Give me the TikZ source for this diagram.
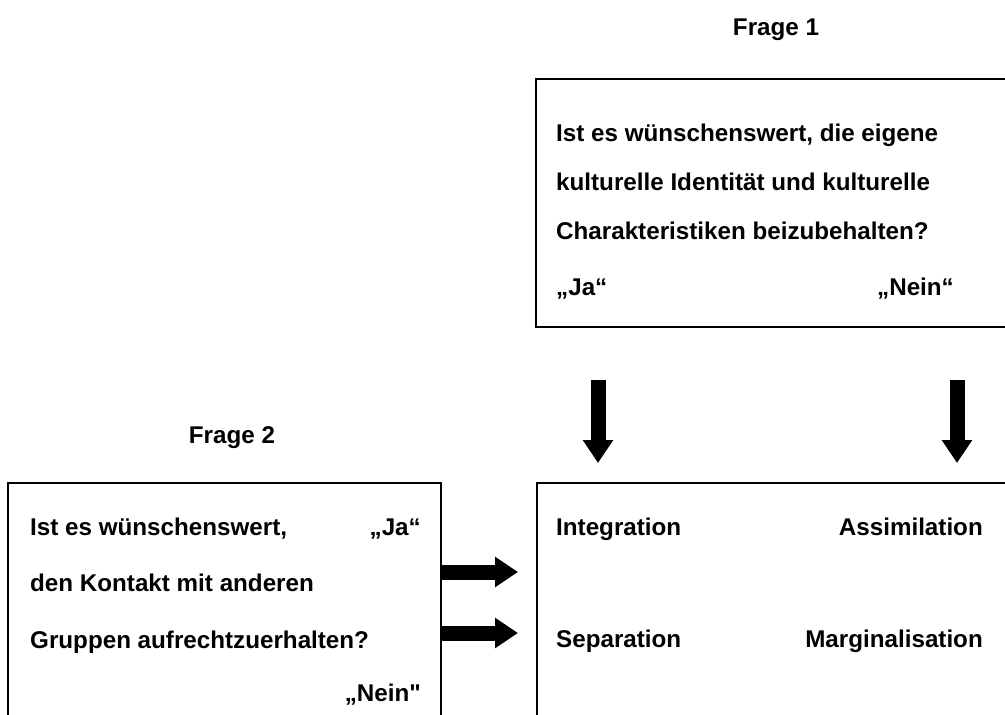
\documentclass[tikz,border=0pt]{standalone}
\usepackage{fontspec}
\setmainfont{Liberation Sans}[Ligatures=TeXOff]
\usetikzlibrary{arrows.meta}
\begin{document}
\begin{tikzpicture}[x=1pt,y=-1pt,
  panel/.style={draw,line width=2.4pt,rectangle,inner sep=0pt},
  lbl/.style={inner sep=0pt,font=\fontsize{24.2}{28}\selectfont\bfseries},
  lw/.style={lbl,anchor=base west},
  le/.style={lbl,anchor=base east},
  blockarrow/.style={line width=15pt,-{Triangle[width=29pt,length=23pt]}}]
\useasboundingbox (0,0) rectangle (1005,715);
\clip (0,0) rectangle (1005,715);

% panels
\node[panel,minimum width=476pt,minimum height=248pt] (q1) at (774,203) {};
\node[panel,minimum width=433pt,minimum height=242pt] (q2) at (224.5,604) {};
\node[panel,minimum width=475pt,minimum height=242pt] (res) at (774.5,604) {};

% headings
\node[lbl,anchor=base] (f1) at (776,35) {Frage 1};
\node[lbl,anchor=base] (f2) at (232,443) {Frage 2};

% question 1
\node[lw] (q1a) at (556,141) {Ist es wünschenswert, die eigene};
\node[lw] (q1b) at (556,190) {kulturelle Identität und kulturelle};
\node[lw] (q1c) at (556,239) {Charakteristiken beizubehalten?};
\node[lw] (q1ja) at (556,295) {„Ja“};
\node[lw] (q1nein) at (877,295) {„Nein“};

% question 2
\node[lw] (q2a) at (30,535) {Ist es wünschenswert,};
\node[le] (q2ja) at (421,535) {„Ja“};
\node[lw] (q2b) at (30,591) {den Kontakt mit anderen};
\node[lw] (q2c) at (30,648) {Gruppen aufrechtzuerhalten?};
\node[le] (q2nein) at (421,701) {„Nein"};

% outcomes
\node[lw] (int) at (556,535) {Integration};
\node[le] (ass) at (983,535) {Assimilation};
\node[lw] (sep) at (556,647) {Separation};
\node[le] (mar) at (983,647) {Marginalisation};

% arrow end points
\coordinate (d1s) at (598,380);
\coordinate (d1e) at (598,463);
\coordinate (d2s) at (957,380);
\coordinate (d2e) at (957,463);
\coordinate (h1e) at (518,572);
\coordinate (h2e) at (518,633);

\draw[blockarrow] (d1s) -- (d1e);
\draw[blockarrow] (d2s) -- (d2e);
\draw[blockarrow] (q2.east |- h1e) -- (h1e);
\draw[blockarrow] (q2.east |- h2e) -- (h2e);
\end{tikzpicture}
\end{document}
